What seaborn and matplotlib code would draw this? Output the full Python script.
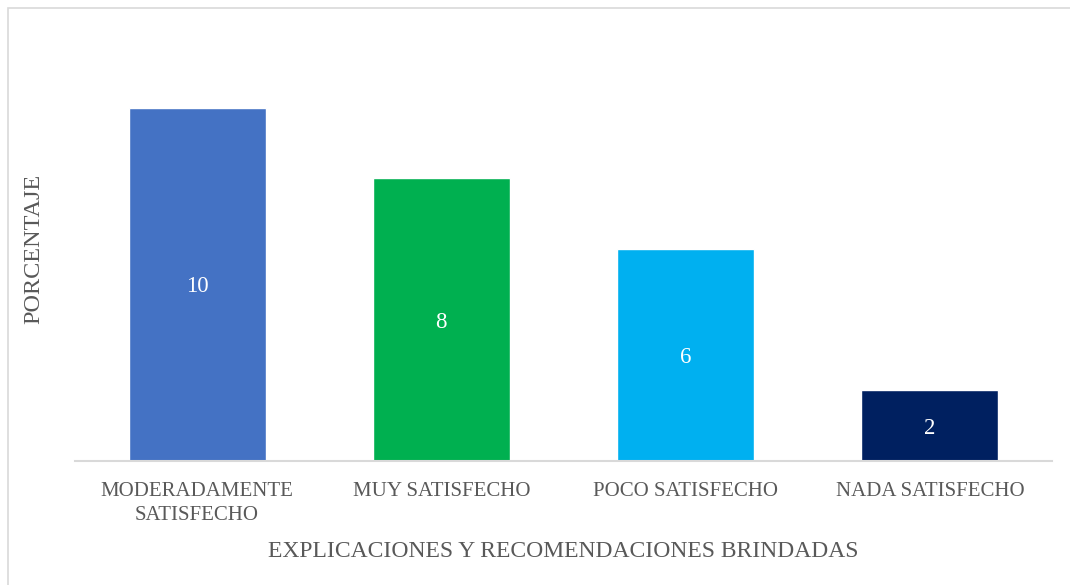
import matplotlib
matplotlib.use("Agg")
import matplotlib.pyplot as plt
import seaborn as sns
import pandas as pd
from matplotlib.patches import Rectangle

categories = ["MODERADAMENTE\nSATISFECHO", "MUY SATISFECHO", "POCO SATISFECHO", "NADA SATISFECHO"]
values = [10, 8, 6, 2]
colors = ["#4472C4", "#00B050", "#00B0F0", "#002060"]
x_title = "EXPLICACIONES Y RECOMENDACIONES BRINDADAS"
y_title = "PORCENTAJE"

sns.set_theme(style="white")
plt.rcParams['font.family'] = ['Liberation Serif', 'DejaVu Serif']

df = pd.DataFrame({"cat": categories, "val": values})

fig = plt.figure(figsize=(10.7, 5.85), dpi=100)
ax = fig.add_axes([75/1070, 124/585, (1052-75)/1070, (461-37)/585])
sns.barplot(data=df, x="cat", y="val", hue="cat", palette=colors, ax=ax,
            width=0.56, legend=False, saturation=1)
ax.set_ylim(0, 12)
ax.set_xlim(-0.5, 3.5)
for s in ["top", "right", "left"]:
    ax.spines[s].set_visible(False)
ax.spines["bottom"].set_color("#D9D9D9")
ax.spines["bottom"].set_linewidth(1.5)
ax.set_yticks([])
ax.tick_params(axis="x", length=0, pad=15, labelsize=15, labelcolor="#595959")
for lbl in ax.get_xticklabels():
    lbl.set_linespacing(1.35)
ax.set_xlabel(x_title, fontsize=17, color="#595959", labelpad=12)
ax.set_ylabel(y_title, fontsize=17.5, color="#595959", labelpad=22)

for i, v in enumerate(values):
    ax.text(i, v / 2, str(v), ha="center", va="center_baseline",
            color="white", fontsize=16.5)

fig.patches.append(Rectangle((8/1070, -0.1), 1.2, 1 - 8/585 + 0.1,
                             transform=fig.transFigure, fill=False,
                             edgecolor="#D9D9D9", linewidth=1.2))
fig.savefig("out.png", dpi=100)
